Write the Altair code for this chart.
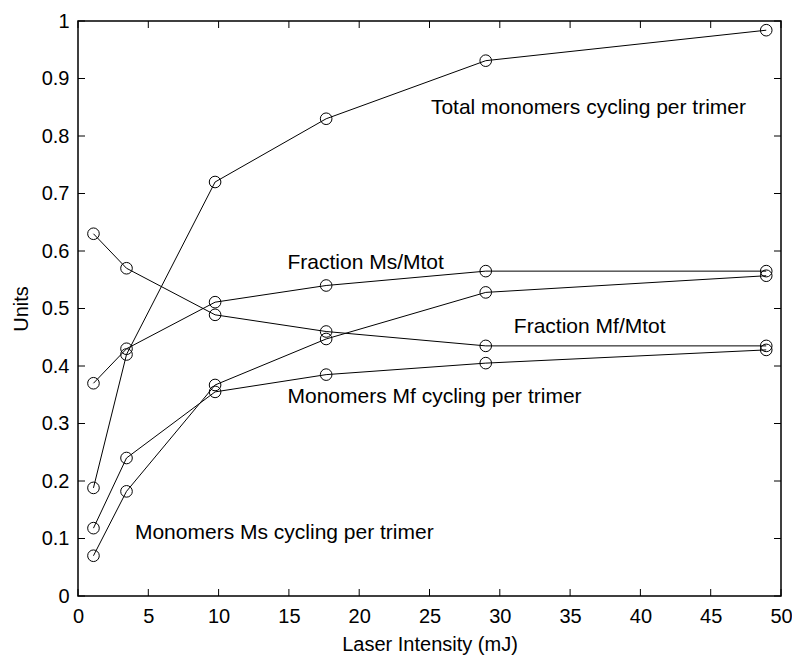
import altair as alt
import pandas as pd

# ---- data ----
laser = [1.1, 3.45, 9.75, 17.65, 29.0, 48.95]
total_cycling = [0.188, 0.42, 0.72, 0.83, 0.931, 0.984]
frac_ms = [0.37, 0.43, 0.511, 0.54, 0.565, 0.565]
frac_mf = [0.63, 0.57, 0.489, 0.46, 0.435, 0.435]
ms_cycling = [0.07, 0.182, 0.367, 0.447, 0.528, 0.557]
mf_cycling = [0.118, 0.24, 0.355, 0.385, 0.405, 0.428]

series_names = ["total", "frac_ms", "frac_mf", "ms", "mf"]
series_values = [total_cycling, frac_ms, frac_mf, ms_cycling, mf_cycling]

label_texts = [
    "Total monomers cycling per trimer",
    "Fraction Ms/Mtot",
    "Fraction Mf/Mtot",
    "Monomers Mf cycling per trimer",
    "Monomers Ms cycling per trimer",
]
label_x = [25.1, 14.9, 31.0, 14.9, 4.05]
label_y = [0.849, 0.579, 0.468, 0.346, 0.11]

x_ticks = [0, 5, 10, 15, 20, 25, 30, 35, 40, 45, 50]
y_ticks = [0, 0.1, 0.2, 0.3, 0.4, 0.5, 0.6, 0.7, 0.8, 0.9, 1.0]

FONT = "Liberation Sans"
W, H = 703, 575
TICK = 7

rows = []
for name, vals in zip(series_names, series_values):
    for i, (xv, yv) in enumerate(zip(laser, vals)):
        rows.append({"series": name, "x": xv, "y": yv, "order": i})
df = pd.DataFrame(rows)
labels_df = pd.DataFrame({"text": label_texts, "x": label_x, "y": label_y})
xt = pd.DataFrame({"x": x_ticks})
yt = pd.DataFrame({"y": y_ticks})

xscale = alt.Scale(domain=[0, 50], nice=False, zero=False)
yscale = alt.Scale(domain=[0, 1], nice=False, zero=False)

x_enc = alt.X(
    "x:Q", scale=xscale, title="Laser Intensity (mJ)",
    axis=alt.Axis(values=x_ticks, ticks=False, domain=False, grid=False,
                  labelFont=FONT, labelFontSize=20, labelColor="black",
                  labelPadding=10, titleFont=FONT, titleFontSize=20,
                  titleFontWeight="normal", titleColor="black", titlePadding=8,
                  labelFlush=False),
)
y_enc = alt.Y(
    "y:Q", scale=yscale, title="Units",
    axis=alt.Axis(values=y_ticks, ticks=False, domain=False, grid=False, format="~g",
                  labelFont=FONT, labelFontSize=20, labelColor="black",
                  labelPadding=9, titleFont=FONT, titleFontSize=20,
                  titleFontWeight="normal", titleColor="black", titlePadding=10,
                  labelFlush=False),
)

lines = alt.Chart(df).mark_line(color="black", strokeWidth=1).encode(
    x=x_enc, y=y_enc, detail="series:N", order="order:Q"
)
points = alt.Chart(df).mark_point(
    shape="circle", filled=False, color="black", size=135, strokeWidth=1, opacity=1
).encode(x=alt.X("x:Q", scale=xscale), y=alt.Y("y:Q", scale=yscale))

texts = alt.Chart(labels_df).mark_text(
    align="left", baseline="middle", font=FONT, fontSize=21, color="black"
).encode(x=alt.X("x:Q", scale=xscale), y=alt.Y("y:Q", scale=yscale), text="text:N")

# inward ticks on all four sides
bottom_ticks = alt.Chart(xt).mark_rule(color="black", strokeWidth=1).encode(
    x=alt.X("x:Q", scale=xscale), y=alt.value(H), y2=alt.value(H - TICK)
)
top_ticks = alt.Chart(xt).mark_rule(color="black", strokeWidth=1).encode(
    x=alt.X("x:Q", scale=xscale), y=alt.value(0), y2=alt.value(TICK)
)
left_ticks = alt.Chart(yt).mark_rule(color="black", strokeWidth=1).encode(
    y=alt.Y("y:Q", scale=yscale), x=alt.value(0), x2=alt.value(TICK)
)
right_ticks = alt.Chart(yt).mark_rule(color="black", strokeWidth=1).encode(
    y=alt.Y("y:Q", scale=yscale), x=alt.value(W), x2=alt.value(W - TICK)
)

chart = alt.layer(
    lines, points, texts, bottom_ticks, top_ticks, left_ticks, right_ticks
).properties(
    width=W, height=H,
    autosize=alt.AutoSizeParams(type="none"),
    padding={"left": 70, "top": 13, "right": 11, "bottom": 62},
    background="white",
).configure_view(stroke="black", strokeWidth=1.5)

chart.save("out.html", embed_options={"renderer": "svg", "actions": False})
